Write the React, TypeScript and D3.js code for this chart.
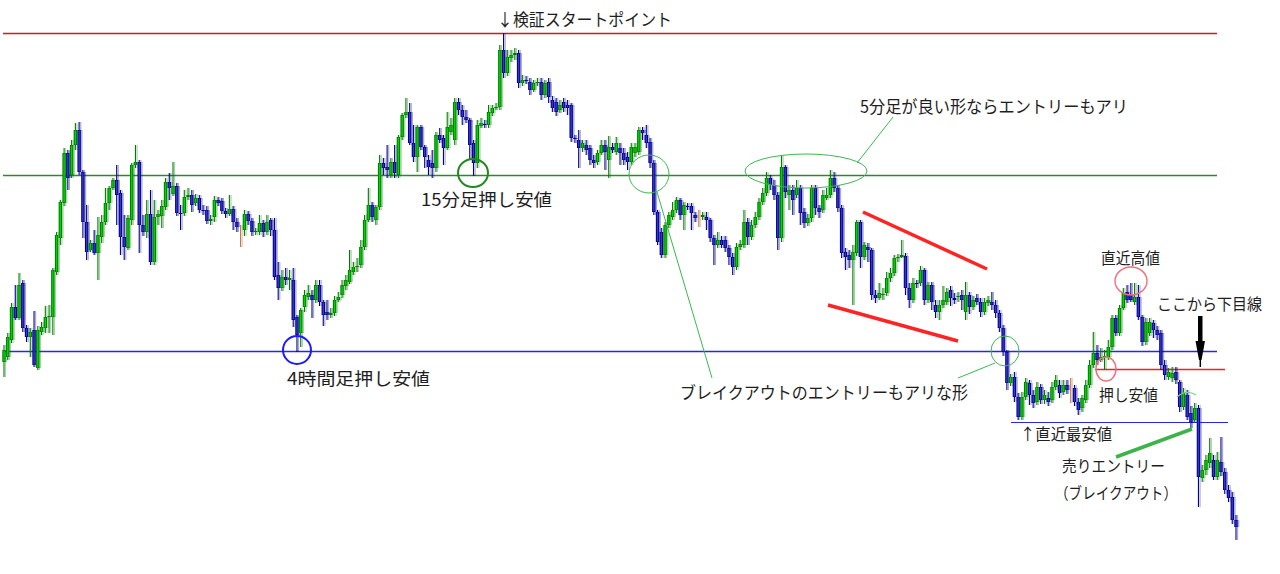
import React from "react";
import * as d3 from "d3";

// ---- price data (abstract price units) ----
const openV = [
  238,243,260,293,282,317,272,263,270,232,
  268,272,283,283,328,362,397,447,425,455,
  470,428,378,350,357,347,363,378,397,412,
  420,407,363,352,380,435,438,375,368,386,
  338,383,384,393,418,406,414,387,387,403,
  405,397,402,390,390,379,383,400,399,389,
  386,391,378,373,370,386,379,368,368,377,
  368,380,370,325,312,323,320,320,283,267,
  293,303,305,300,315,298,288,285,287,300,
  305,314,318,328,333,335,353,380,395,380,
  393,437,433,425,438,425,463,485,488,457,
  443,473,453,440,437,432,465,462,452,468,
  460,498,490,483,480,457,437,474,476,475,
  487,492,493,550,527,542,545,547,517,520,
  518,510,517,518,505,518,500,498,490,498,
  495,495,462,460,452,455,452,440,438,447,
  455,440,453,448,452,447,443,438,447,448,
  470,465,458,437,388,368,345,375,383,390,
  400,385,394,394,385,383,383,383,380,362,
  355,360,360,352,343,333,353,355,378,363,
  375,383,398,407,422,415,405,362,433,405,
  410,405,412,388,377,382,412,392,390,402,
  405,422,412,392,348,345,340,347,378,343,
  353,350,305,302,305,307,322,327,342,343,
  344,312,300,317,317,330,300,315,295,288,
  295,298,310,302,303,305,288,305,293,302,
  298,288,297,298,295,287,272,248,217,223,
  203,183,203,217,205,198,213,200,202,200,
  213,215,208,215,210,212,198,192,200,215,
  235,247,240,243,243,253,282,267,292,308,
  305,298,303,283,258,267,277,270,267,235,
  223,222,228,218,193,205,187,180,192,122,
  130,137,140,123,138,128,110,103,80,
];
const closeV = [
  250,263,293,282,315,272,263,268,235,270,
  273,283,284,330,365,398,447,422,455,470,
  428,378,348,357,347,365,378,397,412,420,
  405,363,353,382,435,438,375,368,386,338,
  383,386,394,418,412,414,387,386,403,405,
  395,402,390,389,379,381,400,397,389,386,
  391,378,373,372,386,379,368,369,377,368,
  378,370,323,312,323,320,322,280,265,290,
  305,307,300,315,298,285,285,287,300,303,
  315,320,330,333,334,353,380,395,383,393,
  437,432,430,438,427,463,485,488,457,443,
  473,453,443,433,432,465,460,452,473,475,
  498,490,483,480,455,437,475,477,475,488,
  492,493,550,527,543,545,547,517,520,519,
  510,517,518,505,517,503,492,488,495,492,
  492,462,461,452,457,450,440,437,447,455,
  448,453,450,457,447,440,438,453,453,470,
  467,457,437,388,358,345,375,385,390,400,
  385,395,393,387,382,382,385,380,362,355,
  360,355,352,343,333,353,356,378,363,375,
  383,398,407,422,415,405,362,433,408,410,
  400,412,387,377,382,412,392,388,405,405,
  422,412,392,347,343,340,348,378,343,355,
  350,305,302,307,306,322,327,342,343,345,
  312,300,317,316,330,300,315,298,288,295,
  300,308,302,300,304,300,305,293,300,298,
  288,298,300,295,287,272,248,217,223,203,
  183,203,218,205,197,213,200,205,198,213,
  220,207,215,210,212,198,190,202,215,235,
  247,240,243,244,253,282,267,292,307,300,
  300,303,283,258,278,278,270,265,235,225,
  228,227,220,193,207,183,177,192,123,130,
  140,147,123,140,128,110,102,80,73,
];
const highV = [
  255,267,297,315,327,320,275,272,289,274,
  278,294,295,332,368,400,452,450,460,477,
  478,430,395,360,370,383,385,412,414,422,
  435,410,385,385,437,455,440,385,400,410,
  400,390,400,422,427,438,417,395,410,412,
  410,406,405,395,394,385,404,403,402,392,
  405,394,382,375,390,389,382,372,385,380,
  385,382,382,338,330,332,330,332,285,292,
  310,315,310,320,320,300,300,292,304,308,
  320,325,350,338,342,360,385,412,398,395,
  445,442,455,442,455,465,487,502,497,475,
  475,475,455,445,450,468,472,465,488,482,
  502,502,495,490,482,460,480,482,480,495,
  495,497,555,567,550,550,552,550,525,524,
  522,520,522,522,520,522,504,502,500,502,
  500,497,465,470,460,460,455,445,450,460,
  460,464,457,463,457,452,448,457,457,473,
  473,475,462,440,390,372,378,388,398,403,
  402,398,397,397,388,390,388,388,382,365,
  368,364,364,355,347,357,360,390,382,380,
  388,402,412,428,425,420,408,445,435,415,
  415,420,415,392,386,415,415,395,410,412,
  430,428,415,395,352,350,355,380,380,358,
  357,352,310,317,312,328,332,345,346,360,
  347,317,322,320,334,332,318,318,300,300,
  314,312,314,307,308,310,318,308,304,306,
  302,302,304,308,300,290,275,250,226,228,
  207,208,222,220,210,218,216,210,208,218,
  225,220,220,220,222,215,202,205,220,240,
  268,255,252,250,260,285,285,295,312,315,
  317,317,315,285,282,282,280,274,270,240,
  232,233,233,220,212,210,194,197,195,135,
  145,162,145,148,163,132,115,108,85,
];
const lowV = [
  223,240,257,280,280,268,258,243,233,230,
  265,267,267,265,325,355,394,410,422,450,
  425,362,340,348,345,320,357,375,390,410,
  375,345,340,350,375,432,347,364,362,335,
  335,375,372,390,400,404,384,370,384,400,
  388,394,387,385,376,375,378,394,386,382,
  384,370,368,353,364,375,364,365,365,363,
  365,364,320,300,309,315,310,273,248,253,
  288,300,282,297,294,274,280,282,284,298,
  302,310,316,325,328,332,350,378,378,375,
  390,425,422,422,422,422,460,482,455,438,
  428,450,432,425,422,428,457,435,450,465,
  455,485,475,477,440,424,432,472,472,472,
  484,490,490,522,524,538,540,512,514,516,
  505,508,514,500,502,497,488,484,487,488,
  485,458,457,432,448,445,435,432,435,445,
  430,422,447,445,435,435,430,435,443,445,
  460,452,432,385,355,342,342,372,380,387,
  380,370,390,370,378,373,380,370,358,335,
  352,352,348,335,325,330,350,352,355,360,
  372,380,395,404,410,400,350,358,402,390,
  385,402,375,372,374,378,385,382,387,400,
  402,408,388,342,330,332,295,344,332,340,
  338,300,297,300,300,304,318,324,338,342,
  305,292,297,312,314,295,297,290,282,280,
  292,295,294,296,298,290,280,286,290,295,
  283,285,294,290,282,268,244,210,214,198,
  180,180,200,195,192,195,196,196,194,197,
  210,202,205,206,197,194,185,188,197,212,
  232,235,238,230,240,250,264,264,290,297,
  298,295,280,254,255,264,262,260,230,220,
  220,218,216,188,190,180,172,177,93,118,
  125,132,120,120,124,106,98,76,60,
];
// doji candles drawn in brown
const dojiIdx = [63, 185, 284];

// horizontal price levels
const levelStart = 567;      // 検証スタート
const level15m = 425;        // 15分足押し安値
const level4h = 249;         // 4時間足押し安値
const levelPush = 231;       // 押し安値
const levelRecentLow = 178;  // 直近最安値

const N = Math.min(openV.length, closeV.length, highV.length, lowV.length);

const FONT = "'Noto Sans CJK JP', 'Noto Sans', sans-serif";
const TEXT_COLOR = "#1e1e1e";

function Candles({ x, y, ghost }: { x: any; y: any; ghost?: boolean }) {
  return (
    <g opacity={ghost ? 0.35 : 1} transform={ghost ? "translate(1.6,0)" : undefined}>
      {d3.range(N).map((i) => {
        const o = openV[i];
        const c = closeV[i];
        const hi = Math.max(highV[i], o, c);
        const lo = Math.min(lowV[i], o, c);
        const cx = x(i);
        const doji = dojiIdx.includes(i);
        const bull = c >= o;
        const dark = doji ? "#b87040" : bull ? "#007a00" : "#00008a";
        const fill = doji ? "#d08850" : bull ? "#00d400" : "#3636c8";
        const top = y(Math.max(o, c));
        const bot = y(Math.min(o, c));
        const h = Math.max(1, bot - top);
        return (
          <g key={i}>
            <line x1={cx} x2={cx} y1={y(hi)} y2={y(lo)} stroke={dark} strokeWidth={1.1} />
            {!doji && <rect x={cx - 1.7} y={top} width={3.4} height={h} fill={dark} />}
            {!doji && h > 2 && (
              <rect x={cx - 0.7} y={top + 0.6} width={1.4} height={h - 1.2} fill={fill} />
            )}
          </g>
        );
      })}
    </g>
  );
}

function Label({ x, y, text, len, size = 17 }: { x: number; y: number; text: string; len: number; size?: number }) {
  return (
    <text
      x={x}
      y={y}
      fontFamily={FONT}
      fontSize={size}
      fill={TEXT_COLOR}
      textLength={len}
      lengthAdjust="spacingAndGlyphs"
    >
      {text}
    </text>
  );
}

export default function App() {
  const W = 1280;
  const H = 574;
  const x = d3.scaleLinear().domain([0, N - 1]).range([4, 1236]);
  const y = d3.scaleLinear().domain([26, 600]).range([574, 0]);
  const crisp = (v: number) => Math.round(y(v)) + 0.5;

  const lightGreen = "#3cb850";

  return (
    <svg
      width={W}
      height={H}
      style={{ position: "absolute", left: 0, top: 0, background: "#fff", display: "block" }}
    >
      <rect x={0} y={0} width={W} height={H} fill="#fff" />

      {/* horizontal levels */}
      <line x1={3} x2={1217} y1={crisp(levelStart)} y2={crisp(levelStart)} stroke="#d01818" strokeWidth={1.6} />
      <line x1={3} x2={1217} y1={crisp(level15m)} y2={crisp(level15m)} stroke="#2a8a2a" strokeWidth={1.3} />
      <line x1={3} x2={1217} y1={crisp(level4h)} y2={crisp(level4h)} stroke="#2626ee" strokeWidth={1.3} />
      <line x1={1095} x2={1225} y1={crisp(levelPush)} y2={crisp(levelPush)} stroke="#ff1c1c" strokeWidth={1.6} />
      <line x1={1011} x2={1228} y1={crisp(levelRecentLow)} y2={crisp(levelRecentLow)} stroke="#2626ee" strokeWidth={1.2} />

      {/* candles */}
      <Candles x={x} y={y} ghost />
      <Candles x={x} y={y} />

      {/* red wedge lines */}
      <line x1={863} y1={212} x2={987} y2={269} stroke="#ff2424" strokeWidth={3.5} />
      <line x1={828} y1={305} x2={958} y2={341} stroke="#ff2424" strokeWidth={3.5} />

      {/* circles */}
      <ellipse cx={297} cy={350} rx={14} ry={14} fill="none" stroke="#1a1aff" strokeWidth={2} />
      <ellipse cx={473} cy={173} rx={15} ry={14} fill="none" stroke="#1e8a1e" strokeWidth={2} />
      <ellipse cx={649} cy={174} rx={20} ry={19} fill="none" stroke={lightGreen} strokeWidth={1} />
      <ellipse cx={806} cy={171} rx={61} ry={17} fill="none" stroke={lightGreen} strokeWidth={1} />
      <ellipse cx={1005} cy={351} rx={14} ry={15} fill="none" stroke={lightGreen} strokeWidth={1} />
      <ellipse cx={1131} cy={281} rx={16} ry={14} fill="none" stroke="#f07080" strokeWidth={1.4} />
      <ellipse cx={1106} cy={369} rx={10} ry={12} fill="none" stroke="#f07080" strokeWidth={1.4} />
      <path d="M1177,397 Q1186,389 1196,395" fill="none" stroke="#7fd08a" strokeWidth={1.2} />

      {/* pointer lines */}
      <line x1={657} y1={192} x2={712} y2={378} stroke={lightGreen} strokeWidth={1} />
      <line x1={857} y1={163} x2={893} y2={117} stroke={lightGreen} strokeWidth={1} />
      <line x1={958} y1={378} x2={995} y2={363} stroke={lightGreen} strokeWidth={1} />
      <line x1={1116} y1={457} x2={1192} y2={429} stroke="#3cb44b" strokeWidth={3.5} />

      {/* black arrow */}
      <rect x={1198} y={316} width={4.5} height={27} fill="#000" />
      <polygon points="1195.5,341 1205,341 1203,352 1201.5,360 1199,360 1197.5,352" fill="#000" />
      <line x1={1200.3} y1={358} x2={1200.3} y2={367} stroke="#000" strokeWidth={1.5} />

      {/* texts */}
      <Label x={497} y={26} text="↓検証スタートポイント" len={175} />
      <Label x={860} y={113} text="5分足が良い形ならエントリーもアリ" len={268} />
      <Label x={421} y={206} text="15分足押し安値" len={131} />
      <Label x={287} y={385} text="4時間足押し安値" len={143} />
      <Label x={680} y={399} text="ブレイクアウトのエントリーもアリな形" len={288} />
      <Label x={1101} y={264} text="直近高値" len={59} size={16} />
      <Label x={1157} y={310} text="ここから下目線" len={105} size={16} />
      <Label x={1099} y={401} text="押し安値" len={59} size={16} />
      <Label x={1020} y={440} text="↑直近最安値" len={92} size={16} />
      <Label x={1062} y={472} text="売りエントリー" len={103} size={16} />
      <Label x={1055} y={499} text="（ブレイクアウト）" len={122} size={16} />
    </svg>
  );
}
